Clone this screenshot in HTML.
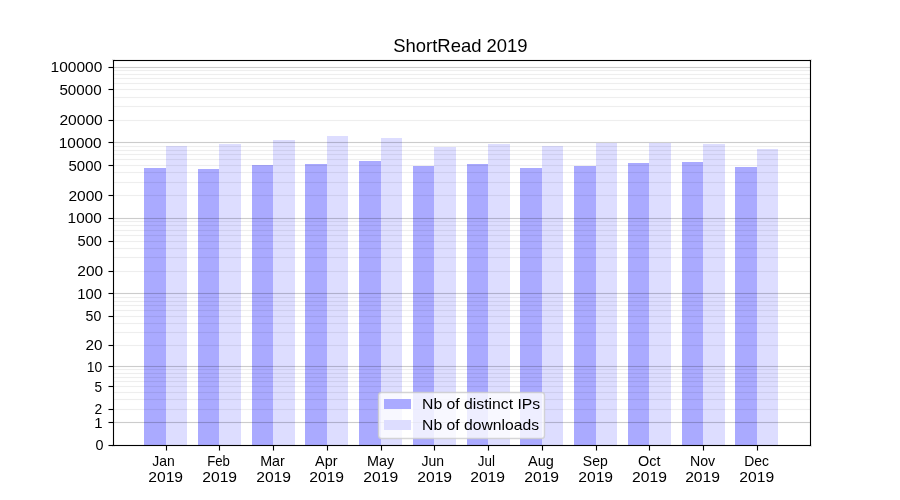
<!DOCTYPE html><html><head><meta charset="utf-8"><title>ShortRead 2019</title><style>
html,body{margin:0;padding:0;background:#fff;width:900px;height:500px;overflow:hidden}
svg{display:block;will-change:transform}text{font-family:"Liberation Sans",sans-serif;fill:#000}
</style></head><body>
<svg width="900" height="500" viewBox="0 0 900 500">
<rect x="0" y="0" width="900" height="500" fill="#fff"/>
<g shape-rendering="crispEdges">
<rect x="144" y="168" width="22" height="277" fill="#aaaaff"/>
<rect x="166" y="146" width="21" height="299" fill="#ddddff"/>
<rect x="198" y="169" width="21" height="276" fill="#aaaaff"/>
<rect x="219" y="144" width="22" height="301" fill="#ddddff"/>
<rect x="252" y="165" width="21" height="280" fill="#aaaaff"/>
<rect x="273" y="140" width="22" height="305" fill="#ddddff"/>
<rect x="305" y="164" width="22" height="281" fill="#aaaaff"/>
<rect x="327" y="136" width="21" height="309" fill="#ddddff"/>
<rect x="359" y="161" width="22" height="284" fill="#aaaaff"/>
<rect x="381" y="138" width="21" height="307" fill="#ddddff"/>
<rect x="413" y="166" width="21" height="279" fill="#aaaaff"/>
<rect x="434" y="147" width="22" height="298" fill="#ddddff"/>
<rect x="467" y="164" width="21" height="281" fill="#aaaaff"/>
<rect x="488" y="144" width="22" height="301" fill="#ddddff"/>
<rect x="520" y="168" width="22" height="277" fill="#aaaaff"/>
<rect x="542" y="146" width="21" height="299" fill="#ddddff"/>
<rect x="574" y="166" width="22" height="279" fill="#aaaaff"/>
<rect x="596" y="143" width="21" height="302" fill="#ddddff"/>
<rect x="628" y="163" width="21" height="282" fill="#aaaaff"/>
<rect x="649" y="143" width="22" height="302" fill="#ddddff"/>
<rect x="682" y="162" width="21" height="283" fill="#aaaaff"/>
<rect x="703" y="144" width="22" height="301" fill="#ddddff"/>
<rect x="735" y="167" width="22" height="278" fill="#aaaaff"/>
<rect x="757" y="149" width="21" height="296" fill="#ddddff"/>
</g>
<g shape-rendering="crispEdges" fill="#000">
<rect x="113" y="66" width="697" height="1" fill-opacity="0.0118"/>
<rect x="113" y="67" width="697" height="1" fill-opacity="0.2000"/>
<rect x="113" y="68" width="697" height="1" fill-opacity="0.0118"/>
<rect x="113" y="69" width="697" height="1" fill-opacity="0.0039"/>
<rect x="113" y="70" width="697" height="1" fill-opacity="0.0667"/>
<rect x="113" y="71" width="697" height="1" fill-opacity="0.0039"/>
<rect x="113" y="73" width="697" height="1" fill-opacity="0.0039"/>
<rect x="113" y="74" width="697" height="1" fill-opacity="0.0667"/>
<rect x="113" y="75" width="697" height="1" fill-opacity="0.0039"/>
<rect x="113" y="77" width="697" height="1" fill-opacity="0.0039"/>
<rect x="113" y="78" width="697" height="1" fill-opacity="0.0667"/>
<rect x="113" y="79" width="697" height="1" fill-opacity="0.0039"/>
<rect x="113" y="82" width="697" height="1" fill-opacity="0.0039"/>
<rect x="113" y="83" width="697" height="1" fill-opacity="0.0667"/>
<rect x="113" y="84" width="697" height="1" fill-opacity="0.0039"/>
<rect x="113" y="88" width="697" height="1" fill-opacity="0.0039"/>
<rect x="113" y="89" width="697" height="1" fill-opacity="0.0667"/>
<rect x="113" y="90" width="697" height="1" fill-opacity="0.0039"/>
<rect x="113" y="96" width="697" height="1" fill-opacity="0.0039"/>
<rect x="113" y="97" width="697" height="1" fill-opacity="0.0667"/>
<rect x="113" y="98" width="697" height="1" fill-opacity="0.0039"/>
<rect x="113" y="105" width="697" height="1" fill-opacity="0.0039"/>
<rect x="113" y="106" width="697" height="1" fill-opacity="0.0667"/>
<rect x="113" y="107" width="697" height="1" fill-opacity="0.0039"/>
<rect x="113" y="119" width="697" height="1" fill-opacity="0.0039"/>
<rect x="113" y="120" width="697" height="1" fill-opacity="0.0667"/>
<rect x="113" y="121" width="697" height="1" fill-opacity="0.0039"/>
<rect x="113" y="141" width="697" height="1" fill-opacity="0.0118"/>
<rect x="113" y="142" width="697" height="1" fill-opacity="0.2000"/>
<rect x="113" y="143" width="697" height="1" fill-opacity="0.0118"/>
<rect x="113" y="145" width="697" height="1" fill-opacity="0.0039"/>
<rect x="113" y="146" width="697" height="1" fill-opacity="0.0667"/>
<rect x="113" y="147" width="697" height="1" fill-opacity="0.0039"/>
<rect x="113" y="149" width="697" height="1" fill-opacity="0.0039"/>
<rect x="113" y="150" width="697" height="1" fill-opacity="0.0667"/>
<rect x="113" y="151" width="697" height="1" fill-opacity="0.0039"/>
<rect x="113" y="153" width="697" height="1" fill-opacity="0.0039"/>
<rect x="113" y="154" width="697" height="1" fill-opacity="0.0667"/>
<rect x="113" y="155" width="697" height="1" fill-opacity="0.0039"/>
<rect x="113" y="158" width="697" height="1" fill-opacity="0.0039"/>
<rect x="113" y="159" width="697" height="1" fill-opacity="0.0667"/>
<rect x="113" y="160" width="697" height="1" fill-opacity="0.0039"/>
<rect x="113" y="164" width="697" height="1" fill-opacity="0.0039"/>
<rect x="113" y="165" width="697" height="1" fill-opacity="0.0667"/>
<rect x="113" y="166" width="697" height="1" fill-opacity="0.0039"/>
<rect x="113" y="171" width="697" height="1" fill-opacity="0.0039"/>
<rect x="113" y="172" width="697" height="1" fill-opacity="0.0667"/>
<rect x="113" y="173" width="697" height="1" fill-opacity="0.0039"/>
<rect x="113" y="181" width="697" height="1" fill-opacity="0.0039"/>
<rect x="113" y="182" width="697" height="1" fill-opacity="0.0667"/>
<rect x="113" y="183" width="697" height="1" fill-opacity="0.0039"/>
<rect x="113" y="194" width="697" height="1" fill-opacity="0.0039"/>
<rect x="113" y="195" width="697" height="1" fill-opacity="0.0667"/>
<rect x="113" y="196" width="697" height="1" fill-opacity="0.0039"/>
<rect x="113" y="217" width="697" height="1" fill-opacity="0.0118"/>
<rect x="113" y="218" width="697" height="1" fill-opacity="0.2000"/>
<rect x="113" y="219" width="697" height="1" fill-opacity="0.0118"/>
<rect x="113" y="220" width="697" height="1" fill-opacity="0.0039"/>
<rect x="113" y="221" width="697" height="1" fill-opacity="0.0667"/>
<rect x="113" y="222" width="697" height="1" fill-opacity="0.0039"/>
<rect x="113" y="224" width="697" height="1" fill-opacity="0.0039"/>
<rect x="113" y="225" width="697" height="1" fill-opacity="0.0667"/>
<rect x="113" y="226" width="697" height="1" fill-opacity="0.0039"/>
<rect x="113" y="229" width="697" height="1" fill-opacity="0.0039"/>
<rect x="113" y="230" width="697" height="1" fill-opacity="0.0667"/>
<rect x="113" y="231" width="697" height="1" fill-opacity="0.0039"/>
<rect x="113" y="234" width="697" height="1" fill-opacity="0.0039"/>
<rect x="113" y="235" width="697" height="1" fill-opacity="0.0667"/>
<rect x="113" y="236" width="697" height="1" fill-opacity="0.0039"/>
<rect x="113" y="240" width="697" height="1" fill-opacity="0.0039"/>
<rect x="113" y="241" width="697" height="1" fill-opacity="0.0667"/>
<rect x="113" y="242" width="697" height="1" fill-opacity="0.0039"/>
<rect x="113" y="247" width="697" height="1" fill-opacity="0.0039"/>
<rect x="113" y="248" width="697" height="1" fill-opacity="0.0667"/>
<rect x="113" y="249" width="697" height="1" fill-opacity="0.0039"/>
<rect x="113" y="256" width="697" height="1" fill-opacity="0.0039"/>
<rect x="113" y="257" width="697" height="1" fill-opacity="0.0667"/>
<rect x="113" y="258" width="697" height="1" fill-opacity="0.0039"/>
<rect x="113" y="270" width="697" height="1" fill-opacity="0.0039"/>
<rect x="113" y="271" width="697" height="1" fill-opacity="0.0667"/>
<rect x="113" y="272" width="697" height="1" fill-opacity="0.0039"/>
<rect x="113" y="292" width="697" height="1" fill-opacity="0.0118"/>
<rect x="113" y="293" width="697" height="1" fill-opacity="0.2000"/>
<rect x="113" y="294" width="697" height="1" fill-opacity="0.0118"/>
<rect x="113" y="296" width="697" height="1" fill-opacity="0.0039"/>
<rect x="113" y="297" width="697" height="1" fill-opacity="0.0667"/>
<rect x="113" y="298" width="697" height="1" fill-opacity="0.0039"/>
<rect x="113" y="300" width="697" height="1" fill-opacity="0.0039"/>
<rect x="113" y="301" width="697" height="1" fill-opacity="0.0667"/>
<rect x="113" y="302" width="697" height="1" fill-opacity="0.0039"/>
<rect x="113" y="304" width="697" height="1" fill-opacity="0.0039"/>
<rect x="113" y="305" width="697" height="1" fill-opacity="0.0667"/>
<rect x="113" y="306" width="697" height="1" fill-opacity="0.0039"/>
<rect x="113" y="309" width="697" height="1" fill-opacity="0.0039"/>
<rect x="113" y="310" width="697" height="1" fill-opacity="0.0667"/>
<rect x="113" y="311" width="697" height="1" fill-opacity="0.0039"/>
<rect x="113" y="315" width="697" height="1" fill-opacity="0.0039"/>
<rect x="113" y="316" width="697" height="1" fill-opacity="0.0667"/>
<rect x="113" y="317" width="697" height="1" fill-opacity="0.0039"/>
<rect x="113" y="322" width="697" height="1" fill-opacity="0.0039"/>
<rect x="113" y="323" width="697" height="1" fill-opacity="0.0667"/>
<rect x="113" y="324" width="697" height="1" fill-opacity="0.0039"/>
<rect x="113" y="331" width="697" height="1" fill-opacity="0.0039"/>
<rect x="113" y="332" width="697" height="1" fill-opacity="0.0667"/>
<rect x="113" y="333" width="697" height="1" fill-opacity="0.0039"/>
<rect x="113" y="344" width="697" height="1" fill-opacity="0.0039"/>
<rect x="113" y="345" width="697" height="1" fill-opacity="0.0667"/>
<rect x="113" y="346" width="697" height="1" fill-opacity="0.0039"/>
<rect x="113" y="365" width="697" height="1" fill-opacity="0.0118"/>
<rect x="113" y="366" width="697" height="1" fill-opacity="0.2000"/>
<rect x="113" y="367" width="697" height="1" fill-opacity="0.0118"/>
<rect x="113" y="368" width="697" height="1" fill-opacity="0.0039"/>
<rect x="113" y="369" width="697" height="1" fill-opacity="0.0667"/>
<rect x="113" y="370" width="697" height="1" fill-opacity="0.0039"/>
<rect x="113" y="372" width="697" height="1" fill-opacity="0.0039"/>
<rect x="113" y="373" width="697" height="1" fill-opacity="0.0667"/>
<rect x="113" y="374" width="697" height="1" fill-opacity="0.0039"/>
<rect x="113" y="376" width="697" height="1" fill-opacity="0.0039"/>
<rect x="113" y="377" width="697" height="1" fill-opacity="0.0667"/>
<rect x="113" y="378" width="697" height="1" fill-opacity="0.0039"/>
<rect x="113" y="380" width="697" height="1" fill-opacity="0.0039"/>
<rect x="113" y="381" width="697" height="1" fill-opacity="0.0667"/>
<rect x="113" y="382" width="697" height="1" fill-opacity="0.0039"/>
<rect x="113" y="385" width="697" height="1" fill-opacity="0.0039"/>
<rect x="113" y="386" width="697" height="1" fill-opacity="0.0667"/>
<rect x="113" y="387" width="697" height="1" fill-opacity="0.0039"/>
<rect x="113" y="391" width="697" height="1" fill-opacity="0.0039"/>
<rect x="113" y="392" width="697" height="1" fill-opacity="0.0667"/>
<rect x="113" y="393" width="697" height="1" fill-opacity="0.0039"/>
<rect x="113" y="398" width="697" height="1" fill-opacity="0.0039"/>
<rect x="113" y="399" width="697" height="1" fill-opacity="0.0667"/>
<rect x="113" y="400" width="697" height="1" fill-opacity="0.0039"/>
<rect x="113" y="408" width="697" height="1" fill-opacity="0.0039"/>
<rect x="113" y="409" width="697" height="1" fill-opacity="0.0667"/>
<rect x="113" y="410" width="697" height="1" fill-opacity="0.0039"/>
<rect x="113" y="421" width="697" height="1" fill-opacity="0.0118"/>
<rect x="113" y="422" width="697" height="1" fill-opacity="0.2000"/>
<rect x="113" y="423" width="697" height="1" fill-opacity="0.0118"/>
</g>
<g shape-rendering="crispEdges">
<rect x="112" y="59" width="700" height="388" fill="none" stroke="#000" stroke-opacity="0.055" stroke-width="0"/>
<rect x="112" y="59" width="700" height="3" fill="#000" fill-opacity="0.055"/>
<rect x="112" y="444" width="700" height="3" fill="#000" fill-opacity="0.055"/>
<rect x="112" y="59" width="3" height="388" fill="#000" fill-opacity="0.055"/>
<rect x="809" y="59" width="3" height="388" fill="#000" fill-opacity="0.055"/>
<rect x="113" y="60" width="698" height="1" fill="#000"/>
<rect x="113" y="445" width="698" height="1" fill="#000"/>
<rect x="113" y="60" width="1" height="386" fill="#000"/>
<rect x="810" y="60" width="1" height="386" fill="#000"/>
</g>
<g>
<rect x="108.5" y="66" width="4.5" height="3" fill="#000" fill-opacity="0.055"/>
<rect x="108.5" y="67" width="4.5" height="1" fill="#000"/>
<rect x="108.5" y="88" width="4.5" height="3" fill="#000" fill-opacity="0.055"/>
<rect x="108.5" y="89" width="4.5" height="1" fill="#000"/>
<rect x="108.5" y="119" width="4.5" height="3" fill="#000" fill-opacity="0.055"/>
<rect x="108.5" y="120" width="4.5" height="1" fill="#000"/>
<rect x="108.5" y="141" width="4.5" height="3" fill="#000" fill-opacity="0.055"/>
<rect x="108.5" y="142" width="4.5" height="1" fill="#000"/>
<rect x="108.5" y="164" width="4.5" height="3" fill="#000" fill-opacity="0.055"/>
<rect x="108.5" y="165" width="4.5" height="1" fill="#000"/>
<rect x="108.5" y="194" width="4.5" height="3" fill="#000" fill-opacity="0.055"/>
<rect x="108.5" y="195" width="4.5" height="1" fill="#000"/>
<rect x="108.5" y="217" width="4.5" height="3" fill="#000" fill-opacity="0.055"/>
<rect x="108.5" y="218" width="4.5" height="1" fill="#000"/>
<rect x="108.5" y="240" width="4.5" height="3" fill="#000" fill-opacity="0.055"/>
<rect x="108.5" y="241" width="4.5" height="1" fill="#000"/>
<rect x="108.5" y="270" width="4.5" height="3" fill="#000" fill-opacity="0.055"/>
<rect x="108.5" y="271" width="4.5" height="1" fill="#000"/>
<rect x="108.5" y="292" width="4.5" height="3" fill="#000" fill-opacity="0.055"/>
<rect x="108.5" y="293" width="4.5" height="1" fill="#000"/>
<rect x="108.5" y="315" width="4.5" height="3" fill="#000" fill-opacity="0.055"/>
<rect x="108.5" y="316" width="4.5" height="1" fill="#000"/>
<rect x="108.5" y="344" width="4.5" height="3" fill="#000" fill-opacity="0.055"/>
<rect x="108.5" y="345" width="4.5" height="1" fill="#000"/>
<rect x="108.5" y="365" width="4.5" height="3" fill="#000" fill-opacity="0.055"/>
<rect x="108.5" y="366" width="4.5" height="1" fill="#000"/>
<rect x="108.5" y="385" width="4.5" height="3" fill="#000" fill-opacity="0.055"/>
<rect x="108.5" y="386" width="4.5" height="1" fill="#000"/>
<rect x="108.5" y="408" width="4.5" height="3" fill="#000" fill-opacity="0.055"/>
<rect x="108.5" y="409" width="4.5" height="1" fill="#000"/>
<rect x="108.5" y="421" width="4.5" height="3" fill="#000" fill-opacity="0.055"/>
<rect x="108.5" y="422" width="4.5" height="1" fill="#000"/>
<rect x="108.5" y="444" width="4.5" height="3" fill="#000" fill-opacity="0.055"/>
<rect x="108.5" y="445" width="4.5" height="1" fill="#000"/>
<rect x="165" y="446" width="3" height="5" fill="#000" fill-opacity="0.055" shape-rendering="crispEdges"/>
<rect x="166" y="446" width="1" height="4.5" fill="#000"/>
<rect x="218" y="446" width="3" height="5" fill="#000" fill-opacity="0.055" shape-rendering="crispEdges"/>
<rect x="219" y="446" width="1" height="4.5" fill="#000"/>
<rect x="272" y="446" width="3" height="5" fill="#000" fill-opacity="0.055" shape-rendering="crispEdges"/>
<rect x="273" y="446" width="1" height="4.5" fill="#000"/>
<rect x="326" y="446" width="3" height="5" fill="#000" fill-opacity="0.055" shape-rendering="crispEdges"/>
<rect x="327" y="446" width="1" height="4.5" fill="#000"/>
<rect x="380" y="446" width="3" height="5" fill="#000" fill-opacity="0.055" shape-rendering="crispEdges"/>
<rect x="381" y="446" width="1" height="4.5" fill="#000"/>
<rect x="433" y="446" width="3" height="5" fill="#000" fill-opacity="0.055" shape-rendering="crispEdges"/>
<rect x="434" y="446" width="1" height="4.5" fill="#000"/>
<rect x="487" y="446" width="3" height="5" fill="#000" fill-opacity="0.055" shape-rendering="crispEdges"/>
<rect x="488" y="446" width="1" height="4.5" fill="#000"/>
<rect x="541" y="446" width="3" height="5" fill="#000" fill-opacity="0.055" shape-rendering="crispEdges"/>
<rect x="542" y="446" width="1" height="4.5" fill="#000"/>
<rect x="595" y="446" width="3" height="5" fill="#000" fill-opacity="0.055" shape-rendering="crispEdges"/>
<rect x="596" y="446" width="1" height="4.5" fill="#000"/>
<rect x="648" y="446" width="3" height="5" fill="#000" fill-opacity="0.055" shape-rendering="crispEdges"/>
<rect x="649" y="446" width="1" height="4.5" fill="#000"/>
<rect x="702" y="446" width="3" height="5" fill="#000" fill-opacity="0.055" shape-rendering="crispEdges"/>
<rect x="703" y="446" width="1" height="4.5" fill="#000"/>
<rect x="756" y="446" width="3" height="5" fill="#000" fill-opacity="0.055" shape-rendering="crispEdges"/>
<rect x="757" y="446" width="1" height="4.5" fill="#000"/>
</g>
<rect x="378.5" y="392.45" width="166.0" height="46.05" rx="3.08" ry="3.08" fill="#fff" fill-opacity="0.8" stroke="#ccc" stroke-opacity="0.8" stroke-width="1.4"/>
<rect x="384" y="399" width="27" height="10" fill="#aaaaff" shape-rendering="crispEdges"/>
<rect x="384" y="420" width="27" height="10" fill="#ddddff" shape-rendering="crispEdges"/>
<text x="460.42" y="52.00" font-size="18.50" text-anchor="middle" textLength="134.46" lengthAdjust="spacingAndGlyphs">ShortRead 2019</text>
<text x="103.47" y="450.00" font-size="14.10" text-anchor="end" textLength="7.99" lengthAdjust="spacingAndGlyphs">0</text>
<text x="102.51" y="428.00" font-size="14.10" text-anchor="end" textLength="8.31" lengthAdjust="spacingAndGlyphs">1</text>
<text x="102.28" y="414.00" font-size="14.10" text-anchor="end" textLength="7.70" lengthAdjust="spacingAndGlyphs">2</text>
<text x="102.10" y="392.00" font-size="14.10" text-anchor="end" textLength="7.56" lengthAdjust="spacingAndGlyphs">5</text>
<text x="102.16" y="372.00" font-size="14.10" text-anchor="end" textLength="15.50" lengthAdjust="spacingAndGlyphs">10</text>
<text x="102.53" y="350.00" font-size="14.10" text-anchor="end" textLength="17.00" lengthAdjust="spacingAndGlyphs">20</text>
<text x="101.38" y="321.00" font-size="14.10" text-anchor="end" textLength="15.76" lengthAdjust="spacingAndGlyphs">50</text>
<text x="102.01" y="299.00" font-size="14.10" text-anchor="end" textLength="24.70" lengthAdjust="spacingAndGlyphs">100</text>
<text x="103.22" y="276.00" font-size="14.10" text-anchor="end" textLength="25.88" lengthAdjust="spacingAndGlyphs">200</text>
<text x="102.02" y="246.00" font-size="14.10" text-anchor="end" textLength="24.47" lengthAdjust="spacingAndGlyphs">500</text>
<text x="101.79" y="223.00" font-size="14.10" text-anchor="end" textLength="34.17" lengthAdjust="spacingAndGlyphs">1000</text>
<text x="103.02" y="201.00" font-size="14.10" text-anchor="end" textLength="34.59" lengthAdjust="spacingAndGlyphs">2000</text>
<text x="101.78" y="171.00" font-size="14.10" text-anchor="end" textLength="33.28" lengthAdjust="spacingAndGlyphs">5000</text>
<text x="101.57" y="148.00" font-size="14.10" text-anchor="end" textLength="42.75" lengthAdjust="spacingAndGlyphs">10000</text>
<text x="102.79" y="125.00" font-size="14.10" text-anchor="end" textLength="43.39" lengthAdjust="spacingAndGlyphs">20000</text>
<text x="101.61" y="95.00" font-size="14.10" text-anchor="end" textLength="42.18" lengthAdjust="spacingAndGlyphs">50000</text>
<text x="102.36" y="72.00" font-size="14.10" text-anchor="end" textLength="51.72" lengthAdjust="spacingAndGlyphs">100000</text>
<text x="163.57" y="466.00" font-size="14.10" text-anchor="middle" textLength="22.48" lengthAdjust="spacingAndGlyphs">Jan</text>
<text x="165.67" y="482.00" font-size="14.10" text-anchor="middle" textLength="34.85" lengthAdjust="spacingAndGlyphs">2019</text>
<text x="218.60" y="466.00" font-size="14.10" text-anchor="middle" textLength="22.73" lengthAdjust="spacingAndGlyphs">Feb</text>
<text x="219.66" y="482.00" font-size="14.10" text-anchor="middle" textLength="34.85" lengthAdjust="spacingAndGlyphs">2019</text>
<text x="272.51" y="466.00" font-size="14.10" text-anchor="middle" textLength="24.62" lengthAdjust="spacingAndGlyphs">Mar</text>
<text x="273.62" y="482.00" font-size="14.10" text-anchor="middle" textLength="34.85" lengthAdjust="spacingAndGlyphs">2019</text>
<text x="326.32" y="466.00" font-size="14.10" text-anchor="middle" textLength="22.41" lengthAdjust="spacingAndGlyphs">Apr</text>
<text x="326.63" y="482.00" font-size="14.10" text-anchor="middle" textLength="34.85" lengthAdjust="spacingAndGlyphs">2019</text>
<text x="380.56" y="466.00" font-size="14.10" text-anchor="middle" textLength="27.20" lengthAdjust="spacingAndGlyphs">May</text>
<text x="380.70" y="482.00" font-size="14.10" text-anchor="middle" textLength="34.85" lengthAdjust="spacingAndGlyphs">2019</text>
<text x="432.87" y="466.00" font-size="14.10" text-anchor="middle" textLength="22.58" lengthAdjust="spacingAndGlyphs">Jun</text>
<text x="434.66" y="482.00" font-size="14.10" text-anchor="middle" textLength="34.85" lengthAdjust="spacingAndGlyphs">2019</text>
<text x="486.31" y="466.00" font-size="14.10" text-anchor="middle" textLength="17.14" lengthAdjust="spacingAndGlyphs">Jul</text>
<text x="487.64" y="482.00" font-size="14.10" text-anchor="middle" textLength="34.85" lengthAdjust="spacingAndGlyphs">2019</text>
<text x="540.95" y="466.00" font-size="14.10" text-anchor="middle" textLength="25.76" lengthAdjust="spacingAndGlyphs">Aug</text>
<text x="541.66" y="482.00" font-size="14.10" text-anchor="middle" textLength="34.85" lengthAdjust="spacingAndGlyphs">2019</text>
<text x="595.28" y="466.00" font-size="14.10" text-anchor="middle" textLength="24.90" lengthAdjust="spacingAndGlyphs">Sep</text>
<text x="595.67" y="482.00" font-size="14.10" text-anchor="middle" textLength="34.85" lengthAdjust="spacingAndGlyphs">2019</text>
<text x="649.34" y="466.00" font-size="14.10" text-anchor="middle" textLength="22.41" lengthAdjust="spacingAndGlyphs">Oct</text>
<text x="649.54" y="482.00" font-size="14.10" text-anchor="middle" textLength="34.85" lengthAdjust="spacingAndGlyphs">2019</text>
<text x="702.52" y="466.00" font-size="14.10" text-anchor="middle" textLength="25.18" lengthAdjust="spacingAndGlyphs">Nov</text>
<text x="702.59" y="482.00" font-size="14.10" text-anchor="middle" textLength="34.85" lengthAdjust="spacingAndGlyphs">2019</text>
<text x="756.59" y="466.00" font-size="14.10" text-anchor="middle" textLength="24.77" lengthAdjust="spacingAndGlyphs">Dec</text>
<text x="756.68" y="482.00" font-size="14.10" text-anchor="middle" textLength="34.85" lengthAdjust="spacingAndGlyphs">2019</text>
<text x="422.00" y="409.00" font-size="14.10" text-anchor="start" textLength="118.20" lengthAdjust="spacingAndGlyphs">Nb of distinct IPs</text>
<text x="422.08" y="430.00" font-size="14.10" text-anchor="start" textLength="116.94" lengthAdjust="spacingAndGlyphs">Nb of downloads</text>
</svg></body></html>
